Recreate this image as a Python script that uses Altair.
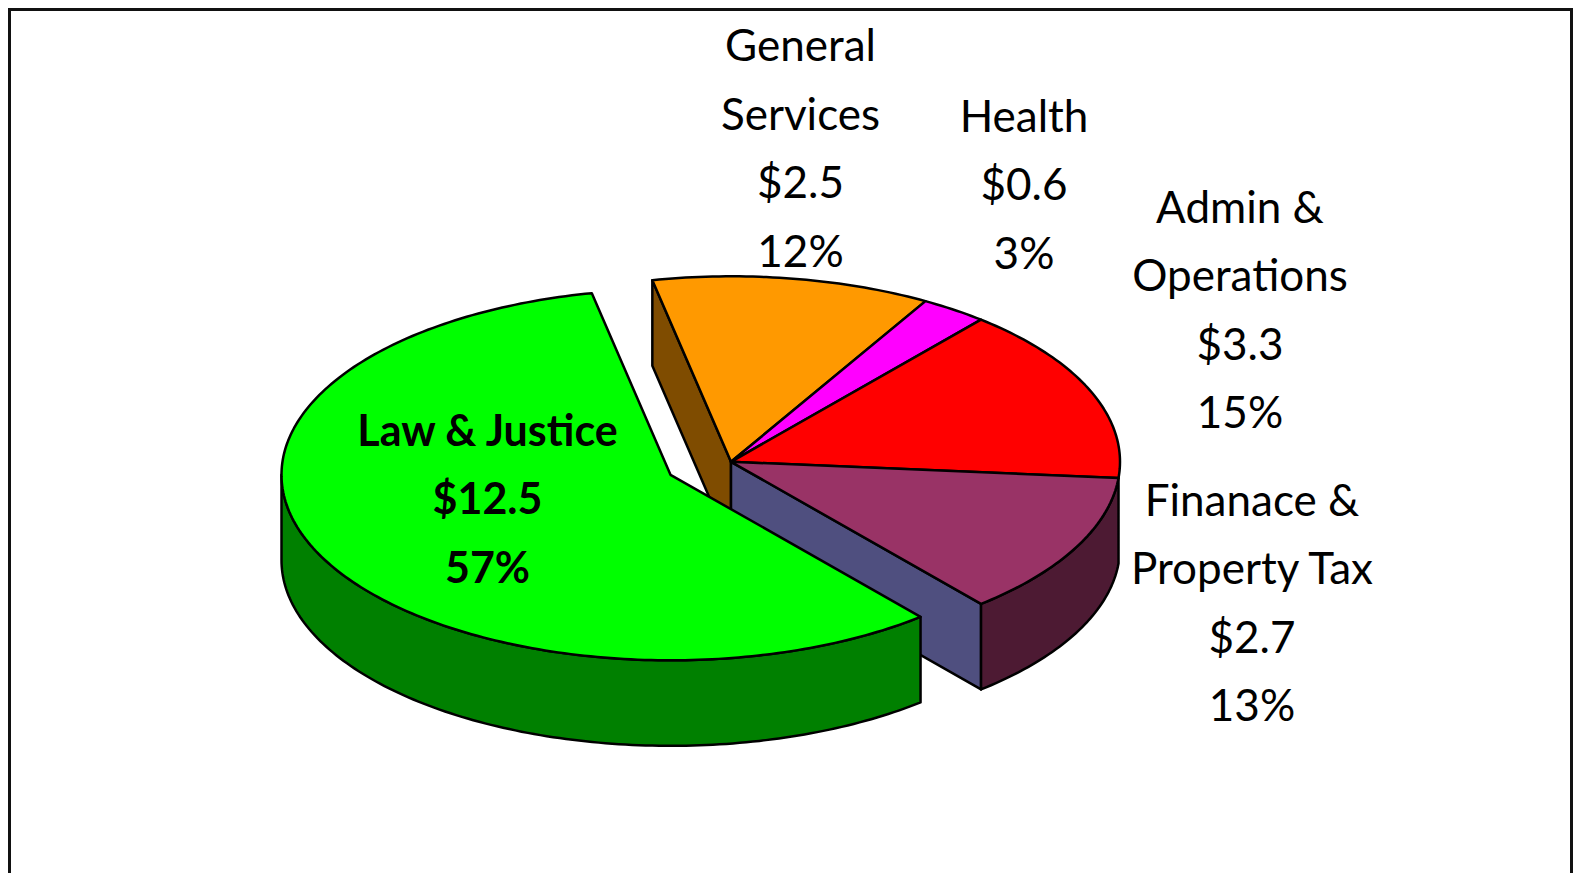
import math
import altair as alt

# --- values ---
NAMES = ["Law & Justice", "General Services", "Health", "Admin & Operations", "Finance & Property Tax"]
AMOUNTS = [12.5, 2.5, 0.6, 3.3, 2.7]
LABEL_LINES = [
    ["Law & Justice", "$12.5", "57%"],
    ["General", "Services", "$2.5", "12%"],
    ["Health", "$0.6", "3%"],
    ["Admin &", "Operations", "$3.3", "15%"],
    ["Finanace &", "Property Tax", "$2.7", "13%"],
]
TOP_COLORS = ["#00FF00", "#FF9900", "#FF00FF", "#FF0000", "#993366"]
SIDE_COLORS = ["#008000", "#7F4C00", "#7F007F", "#7F0000", "#4D1A33"]
RADIAL_COLOR = "#4F4F7F"

# --- layout of the tilted pie (pixels inside the chart) ---
W, H = 1565, 865
CX, CY = 723.0, 453.8
RX, RY, DEPTH = 389.0, 185.5, 85.5
LAW_DX, LAW_DY = -60.5, 13.0
LABEL_POS = [(479.5, 424.5), (792.5, 40), (1016, 110.5), (1232, 201.5), (1244, 494.5)]
LINE_STEP = 68.5
FONT = "Lato"
FONT_SIZE = 44
BOLD_SIZE = 43

total = sum(AMOUNTS)
spans = []
angle = 140.0
for v in AMOUNTS:
    spans.append((angle, angle + 360 * v / total))
    angle += 360 * v / total


def pt(t, cx, cy, dz=0.0):
    r = math.radians(t)
    return [cx + RX * math.sin(r), cy - RY * math.cos(r) + dz]


def arc(t0, t1, cx, cy, dz=0.0):
    n = max(2, int(abs(t1 - t0)) + 1)
    return [pt(t0 + (t1 - t0) * i / n, cx, cy, dz) for i in range(n + 1)]


def feature(name, color, ring):
    ring = ring + [ring[0]]
    return {
        "type": "Feature",
        "geometry": {"type": "Polygon", "coordinates": [ring]},
        "properties": {"name": name, "color": color},
    }


shapes = []
# general services: cut face seen from the front
g0 = spans[1][0]
p = pt(g0, CX, CY)
shapes.append(feature(NAMES[1], SIDE_COLORS[1],
                      [p, [CX, CY], [CX, CY + DEPTH], [p[0], p[1] + DEPTH]]))
# finance: cut face and outer wall
f1 = spans[4][1]
p = pt(f1, CX, CY)
shapes.append(feature(NAMES[4], RADIAL_COLOR,
                      [[CX, CY], p, [p[0], p[1] + DEPTH], [CX, CY + DEPTH]]))
shapes.append(feature(NAMES[4], SIDE_COLORS[4],
                      arc(spans[4][0], f1, CX, CY) + arc(f1, spans[4][0], CX, CY, DEPTH)))
# tops of the pie that stays in place
for i in range(1, 5):
    shapes.append(feature(NAMES[i], TOP_COLORS[i], [[CX, CY]] + arc(spans[i][0], spans[i][1], CX, CY)))
# the exploded slice
lx, ly = CX + LAW_DX, CY + LAW_DY
shapes.append(feature(NAMES[0], SIDE_COLORS[0],
                      arc(spans[0][0], 270, lx, ly) + arc(270, spans[0][0], lx, ly, DEPTH)))
shapes.append(feature(NAMES[0], TOP_COLORS[0], [[lx, ly]] + arc(spans[0][0], spans[0][1], lx, ly)))

frame = [feature("frame", "#FFFFFF", [[1.5, 1.5], [W - 1.5, 1.5], [W - 1.5, H + 20], [1.5, H + 20]])]

projection = alt.Projection(type="identity", scale=1, translate=[0, 0])

frame_layer = alt.Chart(alt.Data(values=frame)).mark_geoshape(
    stroke="#111111", strokeWidth=3, fill="#FFFFFF"
).project(**projection.to_dict())

pie_layer = alt.Chart(alt.Data(values=shapes)).mark_geoshape(
    stroke="#000000", strokeWidth=2.5, strokeJoin="round"
).encode(
    fill=alt.Fill("properties.color:N", scale=None, legend=None)
).project(**projection.to_dict())

rows = []
for i, lines in enumerate(LABEL_LINES):
    x0, y0 = LABEL_POS[i]
    for j, line in enumerate(lines):
        rows.append({"text": line, "x": x0, "y": y0 + j * LINE_STEP, "bold": i == 0})


def text_layer(bold):
    return alt.Chart(alt.Data(values=[r for r in rows if r["bold"] == bold])).mark_text(
        font=FONT, fontSize=BOLD_SIZE if bold else FONT_SIZE, fontWeight="bold" if bold else "normal",
        color="#000000", align="center", baseline="middle",
    ).encode(
        x=alt.X("x:Q", scale=None, axis=None),
        y=alt.Y("y:Q", scale=None, axis=None),
        text="text:N",
    )


chart = alt.layer(frame_layer, pie_layer, text_layer(False), text_layer(True)).properties(
    width=W, height=H, padding=0, autosize="none", background="#FFFFE0",
).configure_view(stroke=None)

chart.save("out.html", embed_options={"renderer": "svg", "actions": False})
